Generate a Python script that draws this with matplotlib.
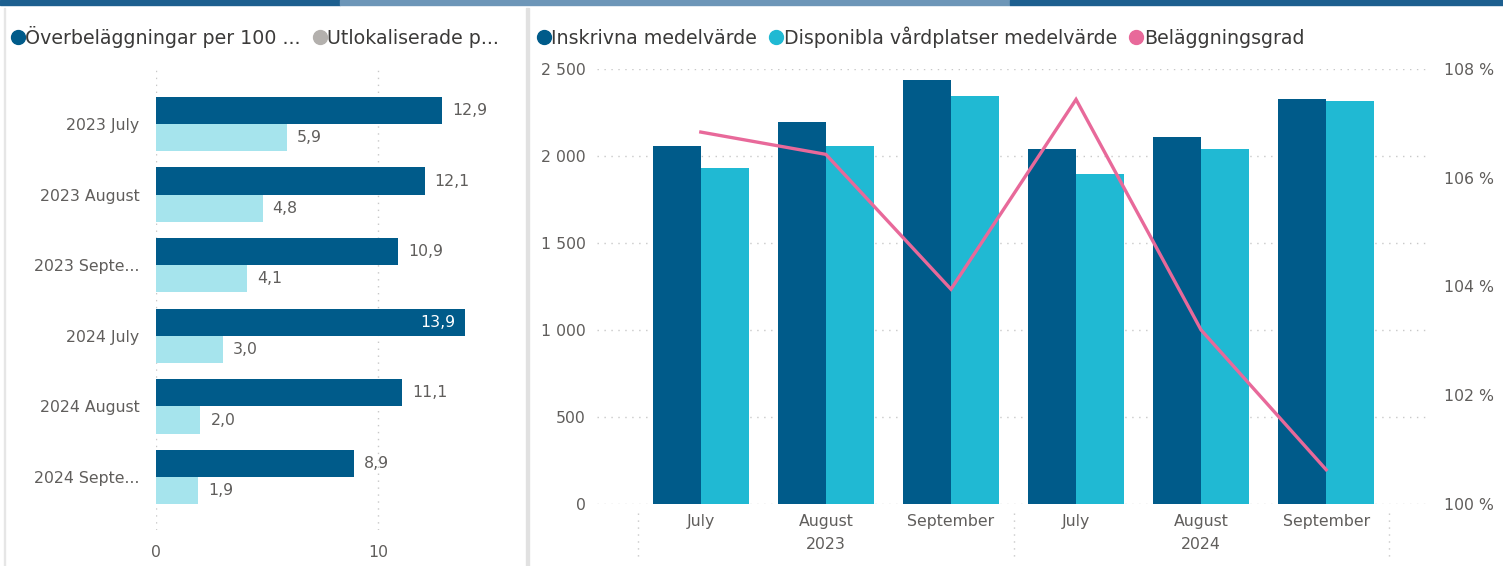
import matplotlib.pyplot as plt
import numpy as np
from matplotlib.lines import Line2D
from matplotlib.patches import Rectangle

plt.rcParams['font.family'] = ['DejaVu Sans']

# vänster diagram
kategorier = ["2023 July", "2023 August", "2023 Septe...", "2024 July", "2024 August", "2024 Septe..."]
overbel = [12.9, 12.1, 10.9, 13.9, 11.1, 8.9]
utlok = [5.9, 4.8, 4.1, 3.0, 2.0, 1.9]

# höger diagram
manader = ["July", "August", "September", "July", "August", "September"]
ar = ["2023", "2024"]
inskrivna = [2057, 2195, 2437, 2040, 2109, 2328]
disponibla = [1931, 2057, 2345, 1897, 2040, 2316]
belaggning = [106.84, 106.43, 103.95, 107.44, 103.2, 100.63]

morkbla = '#005B8A'
cyan = '#20B9D3'
ljusbla = '#A6E4ED'
rosa = '#E8699A'
gra_text = '#605E5C'
legend_text = '#3B3A39'
fs = 11.3
fs_leg = 13.7

W, H = 1503, 566
fig = plt.figure(figsize=(W / 100, H / 100), dpi=100)

def rect(x0, y0, x1, y1):
    return [x0 / W, 1 - y1 / H, (x1 - x0) / W, (y1 - y0) / H]

# ramar och toppremsa
fig.patches.append(Rectangle((0, 1 - 5 / H), 340 / W, 5 / H, transform=fig.transFigure, color='#1D5F8F'))
fig.patches.append(Rectangle((340 / W, 1 - 5 / H), 670 / W, 5 / H, transform=fig.transFigure, color='#6D96B8'))
fig.patches.append(Rectangle((1010 / W, 1 - 5 / H), 493 / W, 5 / H, transform=fig.transFigure, color='#1D5F8F'))
fig.patches.append(Rectangle((526 / W, 0), 3 / W, 1 - 8 / H, transform=fig.transFigure, color='#E1E1E1'))
fig.patches.append(Rectangle((4 / W, 0), 1 / W, 1 - 8 / H, transform=fig.transFigure, color='#E6E6E6'))

# ---- vänster ----
ax1 = fig.add_axes(rect(156, 70, 489, 530))
y = np.arange(len(kategorier))
h = 0.385
ax1.barh(y - h / 2, overbel, height=h, color=morkbla)
ax1.barh(y + h / 2, utlok, height=h, color=ljusbla)
ax1.set_xlim(0, 15)
ax1.set_ylim(5.75, -0.765)
for s in ax1.spines.values():
    s.set_visible(False)
ax1.set_xticks([0, 10])
ax1.set_xticklabels(["0", "10"], color=gra_text, fontsize=fs)
ax1.tick_params(axis='x', length=0, pad=11)
ax1.set_yticks(y)
ax1.set_yticklabels(kategorier, color=gra_text, fontsize=fs)
ax1.tick_params(axis='y', length=0, pad=12)
ax1.grid(axis='x', color='#C8C8C8', linestyle=(0, (1, 4)), linewidth=1)
ax1.set_axisbelow(True)
for i, v in enumerate(overbel):
    txt = f"{v:.1f}".replace('.', ',')
    if v > 13.5:
        ax1.text(v - 0.4, i - h / 2, txt, ha='right', va='center', color='white', fontsize=fs)
    else:
        ax1.text(v + 0.45, i - h / 2, txt, ha='left', va='center', color=gra_text, fontsize=fs)
for i, v in enumerate(utlok):
    txt = f"{v:.1f}".replace('.', ',')
    ax1.text(v + 0.45, i + h / 2, txt, ha='left', va='center', color=gra_text, fontsize=fs)

fig.legend(handles=[Line2D([], [], marker='o', ls='', color=morkbla, markersize=10),
                    Line2D([], [], marker='o', ls='', color='#B3B0AD', markersize=10)],
           labels=["Överbeläggningar per 100 ...", "Utlokaliserade p..."],
           loc='center left', bbox_to_anchor=(12 / W, 1 - 37 / H), ncol=2, frameon=False,
           handlelength=0.6, handletextpad=0.1, columnspacing=0.7, fontsize=fs_leg,
           labelcolor=legend_text, borderpad=0, borderaxespad=0)

# ---- höger ----
ax2 = fig.add_axes(rect(597, 69, 1430, 504))
x = np.arange(len(manader))
b = 0.385
ax2.bar(x - b / 2, inskrivna, width=b, color=morkbla)
ax2.bar(x + b / 2, disponibla, width=b, color=cyan)
ax2.set_xlim(-0.83, 5.83)
ax2.set_ylim(0, 2500)
for s in ax2.spines.values():
    s.set_visible(False)
ax2.set_yticks([0, 500, 1000, 1500, 2000, 2500])
ax2.set_yticklabels(["0", "500", "1 000", "1 500", "2 000", "2 500"], color=gra_text, fontsize=fs)
ax2.tick_params(axis='y', length=0, pad=8)
ax2.grid(axis='y', color='#C8C8C8', linestyle=(0, (1, 4)), linewidth=1)
ax2.set_axisbelow(True)
ax2.set_xticks(x)
ax2.set_xticklabels(manader, color=gra_text, fontsize=fs)
ax2.tick_params(axis='x', length=0, pad=7)
for k, a in enumerate(ar):
    ax2.text(1 + 3 * k, -0.075, a, transform=ax2.get_xaxis_transform(), ha='center', va='top',
             color=gra_text, fontsize=fs)
for xs in [-0.5, 2.5, 5.5]:
    ax2.plot([xs, xs], [-0.02, -0.13], transform=ax2.get_xaxis_transform(), clip_on=False,
             color='#C8C8C8', linestyle=(0, (1, 4)), linewidth=1)

ax3 = ax2.twinx()
ax3.plot(x, belaggning, color=rosa, linewidth=2.4, solid_joinstyle='miter')
ax3.set_ylim(100, 108)
ax3.set_yticks([100, 102, 104, 106, 108])
ax3.set_yticklabels(["100 %", "102 %", "104 %", "106 %", "108 %"], color=gra_text, fontsize=fs)
ax3.tick_params(axis='y', length=0, pad=10)
for s in ax3.spines.values():
    s.set_visible(False)

fig.legend(handles=[Line2D([], [], marker='o', ls='', color=morkbla, markersize=10),
                    Line2D([], [], marker='o', ls='', color=cyan, markersize=10),
                    Line2D([], [], marker='o', ls='', color=rosa, markersize=10)],
           labels=["Inskrivna medelvärde", "Disponibla vårdplatser medelvärde", "Beläggningsgrad"],
           loc='center left', bbox_to_anchor=(538 / W, 1 - 37 / H), ncol=3, frameon=False,
           handlelength=0.6, handletextpad=0.1, columnspacing=0.7, fontsize=fs_leg,
           labelcolor=legend_text, borderpad=0, borderaxespad=0)

fig.savefig("out.png", dpi=100)
